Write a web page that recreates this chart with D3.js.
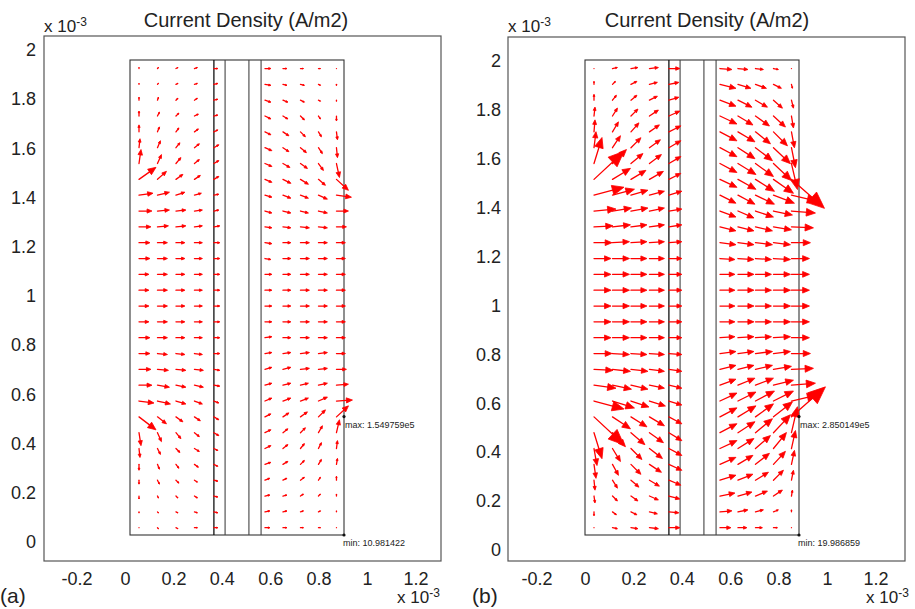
<!DOCTYPE html>
<html>
<head>
<meta charset="utf-8">
<script src="https://cdn.jsdelivr.net/npm/d3@7"></script>
<style>
body { margin: 0; background: #fff; }
text { font-family: "Liberation Sans", Arial, sans-serif; fill: #222; }
</style>
</head>
<body>
<div id="chart"></div>
<script>
// cell geometry, x 10^-3 m
var cellWidth = 0.88, cellHeight = 1.95;
var dividerX = [0.345, 0.391, 0.489, 0.539];
var colX = [0.037, 0.113, 0.189, 0.265, 0.345, 0.555, 0.629, 0.701, 0.775, 0.849];
var rowY = [1.915, 1.85, 1.785, 1.72, 1.655, 1.59, 1.525, 1.46, 1.395, 1.33, 1.265, 1.2, 1.135, 1.07, 1.005,
            0.94, 0.875, 0.81, 0.745, 0.68, 0.615, 0.55, 0.485, 0.42, 0.355, 0.29, 0.225, 0.16, 0.095, 0.03];
var xTicks = [-0.2, 0, 0.2, 0.4, 0.6, 0.8, 1, 1.2];
var yTicks = [0, 0.2, 0.4, 0.6, 0.8, 1, 1.2, 1.4, 1.6, 1.8, 2];
var maxPoint = [0.88, 0.486], minPoint = [0.88, 0];

// arrow components (relative units), rows top to bottom, y up
var jxA = [
  [0,1,2,3,4, 6,4,3,2,0],[0,1,2,3,4, 6,4,4,2,0],[0,1,2,3,4, 6,5,4,2,0],[0,2,3,4,4, 6,5,4,2,0],
  [0,2,3,4,4, 6,6,5,3,1],[1,3,4,5,5, 7,6,6,4,1],[2,4,5,5,5, 7,7,7,5,3],[17,9,7,6,5, 7,8,8,7,12],
  [14,12,9,7,5, 7,8,8,9,15],[13,12,10,8,5, 7,8,8,9,12],[12,11,10,8,6, 7,8,9,9,10],[11,10,9,8,6, 7,8,9,9,9],
  [11,10,9,8,6, 6,8,9,9,9],[10,10,9,8,6, 7,8,9,9,9],[10,10,9,8,6, 7,8,9,9,9],[10,10,9,8,6, 7,8,9,9,9],
  [10,10,9,8,6, 7,8,9,9,9],[11,10,9,8,6, 7,8,9,9,9],[11,10,9,8,6, 7,8,9,9,9],[12,11,10,9,6, 7,8,9,9,10],
  [13,12,10,9,6, 7,8,8,9,12],[15,13,10,8,5, 7,8,8,9,16],[17,9,7,6,5, 6,6,7,7,12],[2,4,5,5,5, 6,5,5,4,3],
  [1,3,4,5,4, 6,5,4,3,1],[0,2,3,4,4, 6,5,4,3,1],[0,2,3,3,4, 5,4,4,2,0],[0,1,2,3,4, 5,4,3,2,0],
  [0,1,2,3,4, 5,4,3,2,0],[0,1,2,3,4, 5,4,3,2,0]
];
var jyA = [
  [1,1,1,1,0, 0,0,0,0,0],[1,1,1,1,1, -1,-1,-1,-1,-1],[3,3,2,2,1, -2,-2,-2,-1,-1],[5,4,3,2,1, -3,-3,-4,-3,-5],
  [7,5,4,3,2, -3,-4,-5,-5,-8],[9,7,5,4,3, -3,-4,-5,-6,-10],[14,9,6,4,3, -3,-4,-5,-7,-14],[12,8,5,4,3, -3,-4,-5,-6,-11],
  [2,3,3,2,1, -2,-3,-3,-4,-2],[0,1,1,1,1, -2,-2,-2,-2,0],[0,1,1,1,1, -1,-1,-1,-1,0],[0,0,0,0,0, -1,0,0,0,0],
  [0,0,0,0,0, -1,0,0,0,0],[0,0,0,0,0, 0,0,0,0,0],[0,0,0,0,0, 0,0,0,0,0],[0,0,0,0,0, 0,0,0,0,0],
  [0,0,0,0,0, 0,0,0,0,0],[0,0,0,0,0, 1,0,0,0,0],[0,-1,-1,-1,0, 1,1,1,1,0],[0,-1,-1,-1,-1, 2,2,1,1,0],
  [0,-2,-2,-2,-1, 2,2,2,2,1],[-2,-3,-3,-3,-2, 3,3,3,4,1],[-13,-7,-5,-4,-3, 3,4,5,7,11],[-13,-9,-6,-4,-3, 3,4,5,7,13],
  [-9,-6,-4,-3,-2, 3,4,5,6,8],[-6,-5,-4,-3,-2, 2,3,4,5,6],[-4,-4,-3,-2,-1, 2,2,3,3,4],[-3,-2,-2,-2,-1, 1,1,2,2,2],
  [-1,-1,-1,-1,-1, 1,1,1,1,1],[0,-1,-1,0,0, 0,0,0,0,0]
];
var jxB = [
  [0,5,7,9,11, 12,10,8,5,0],[0,3,6,8,10, 16,13,11,8,1],[0,4,6,8,10, 16,14,12,9,2],[1,5,7,9,11, 17,15,14,12,2],
  [1,6,8,10,12, 17,17,15,14,3],[2,8,10,11,12, 17,17,17,17,4],[8,14,12,12,12, 17,18,18,18,6],[30,18,15,14,12, 17,18,19,20,33],
  [30,22,17,15,13, 16,17,19,21,26],[22,19,17,15,13, 16,16,18,19,24],[19,18,16,15,13, 16,16,17,18,22],[18,17,16,15,13, 16,16,17,17,19],
  [17,17,16,15,13, 15,16,16,17,18],[17,17,16,15,13, 15,16,16,17,18],[17,17,16,15,13, 15,16,16,17,18],[17,17,16,15,13, 15,16,16,17,18],
  [17,17,16,15,13, 15,16,16,17,18],[17,17,16,15,13, 15,16,16,17,18],[18,17,16,15,13, 16,16,17,17,19],[19,18,17,15,13, 16,16,17,18,22],
  [22,19,17,15,13, 16,17,18,20,24],[30,22,18,16,13, 17,18,19,20,26],[30,18,16,15,13, 17,18,18,19,34],[8,13,14,14,13, 17,17,17,17,6],
  [3,8,11,13,13, 17,16,15,13,4],[2,6,10,12,13, 16,15,14,12,3],[1,5,8,10,12, 16,15,13,10,2],[1,5,7,9,11, 15,14,12,9,1],
  [0,4,6,8,10, 12,10,8,5,0],[0,5,7,9,11, 11,9,7,4,0]
];
var jyB = [
  [0,1,1,1,0, -1,-1,-1,-1,0],[3,3,3,2,2, -4,-4,-4,-4,-4],[6,5,5,4,3, -6,-7,-7,-8,-8],[9,8,7,6,5, -8,-9,-10,-11,-12],
  [12,10,9,7,6, -9,-10,-12,-14,-16],[16,12,10,8,7, -9,-11,-13,-16,-20],[26,14,10,9,7, -9,-11,-13,-17,-26],[28,11,9,8,6, -8,-10,-12,-14,-29],
  [8,6,5,4,4, -8,-9,-9,-8,-6],[2,3,3,3,2, -6,-7,-6,-4,-2],[1,2,2,2,2, -4,-4,-4,-3,-1],[0,1,1,1,1, -2,-2,-2,-2,0],
  [0,0,0,0,0, -1,-1,-1,-1,0],[0,0,0,0,0, 0,0,0,0,0],[0,0,0,0,0, 0,0,0,0,0],[0,0,0,0,0, 0,0,0,0,0],
  [0,0,0,0,0, 0,0,0,0,0],[0,0,0,0,0, 1,1,1,1,0],[0,-1,-1,-1,-1, 2,2,2,2,0],[-1,-2,-2,-2,-2, 4,4,4,3,1],
  [-3,-4,-4,-3,-3, 6,7,7,5,2],[-8,-7,-6,-5,-4, 8,9,10,10,6],[-28,-12,-10,-9,-7, 9,11,13,15,30],[-26,-14,-12,-10,-8, 9,11,14,18,26],
  [-17,-13,-11,-10,-7, 8,10,13,16,18],[-14,-11,-10,-8,-6, 7,9,11,13,14],[-10,-8,-7,-6,-5, 5,6,8,10,10],[-7,-5,-5,-4,-3, 3,4,5,6,6],
  [-4,-3,-3,-2,-1, 1,2,2,2,2],[0,-1,-1,-1,0, 0,0,0,0,0]
];

var panels = [
  {tag: "(a)", jx: jxA, jy: jyA, maxText: "max: 1.549759e5", minText: "min: 10.981422",
   frame: [44, 441, 36, 561], cellLeft: 130, xTickPx: [125, 367], yTickPx: [542, 50], yLabelRight: 36,
   titleX: 246, tagX: 0, unitX: 397},
  {tag: "(b)", jx: jxB, jy: jyB, maxText: "max: 2.850149e5", minText: "min: 19.986859",
   frame: [508, 905, 37, 561], cellLeft: 585, xTickPx: [585, 827], yTickPx: [550, 61], yLabelRight: 501,
   titleX: 707, tagX: 472, unitX: 866}
];

var W = 915, H = 609;
var svg = d3.select("#chart").append("svg").attr("width", W).attr("height", H);
var arrowLen = d3.scaleLinear().domain([0, 1]).range([0, 1]);
var red = "#ff0000";

function arrowPath(x0, y0, dx, dy) {
  var L = Math.sqrt(dx * dx + dy * dy);
  if (L < 0.01) return {line: "M" + x0 + "," + y0 + "L" + x0 + "," + y0, head: null};
  var ux = dx / L, uy = dy / L, nx = -uy, ny = ux;
  var tx = x0 + dx, ty = y0 + dy;
  var h = 0.38 * L, w = 0.16 * L;
  var bx = tx - h * ux, by = ty - h * uy;
  var line = "M" + x0 + "," + y0 + "L" + (tx - 0.5 * h * ux) + "," + (ty - 0.5 * h * uy);
  var head = "M" + tx + "," + ty + "L" + (bx + w * nx) + "," + (by + w * ny) + "L" + (bx - w * nx) + "," + (by - w * ny) + "Z";
  return {line: line, head: head};
}

function unitLabel(g, x, y) {
  var t = g.append("text").attr("x", x).attr("y", y).style("font-size", "17px");
  t.append("tspan").text("x 10");
  t.append("tspan").attr("dy", -6).style("font-size", "12px").text("-3");
}

panels.forEach(function(p) {
  var g = svg.append("g");
  var x = d3.scaleLinear().domain([0, cellWidth]).range([p.cellLeft, p.cellLeft + 214]);
  var y = d3.scaleLinear().domain([0, cellHeight]).range([535, 60]);
  var xt = d3.scaleLinear().domain([0, 1]).range(p.xTickPx);
  var yt = d3.scaleLinear().domain([0, 2]).range(p.yTickPx);

  // frame
  g.append("rect").attr("x", p.frame[0]).attr("y", p.frame[2])
    .attr("width", p.frame[1] - p.frame[0]).attr("height", p.frame[3] - p.frame[2])
    .attr("fill", "none").attr("stroke", "#555").attr("stroke-width", 1.2);

  // axes
  var ax = g.append("g").attr("transform", "translate(0," + p.frame[3] + ")")
    .call(d3.axisBottom(xt).tickValues(xTicks).tickSize(0).tickPadding(11).tickFormat(function(d) { return String(d); }));
  var ay = g.append("g").attr("transform", "translate(" + p.yLabelRight + ",0)")
    .call(d3.axisLeft(yt).tickValues(yTicks).tickSize(0).tickPadding(0).tickFormat(function(d) { return String(d); }));
  [ax, ay].forEach(function(a) {
    a.select(".domain").remove();
    a.attr("font-family", null).attr("font-size", null);
    a.selectAll("text").style("font-size", "18px").attr("fill", "#222");
  });

  // cell geometry
  g.append("rect").attr("x", x(0)).attr("y", y(cellHeight))
    .attr("width", x(cellWidth) - x(0)).attr("height", y(0) - y(cellHeight))
    .attr("fill", "none").attr("stroke", "#333").attr("stroke-width", 1.1);
  g.selectAll(".divider").data(dividerX).enter().append("line")
    .attr("x1", function(d) { return x(d); }).attr("x2", function(d) { return x(d); })
    .attr("y1", y(0)).attr("y2", y(cellHeight))
    .attr("stroke", function(d, i) { return i === 0 ? "#111" : "#444"; })
    .attr("stroke-width", function(d, i) { return i === 0 ? 1.3 : 1.1; });

  // arrows
  var cells = [];
  rowY.forEach(function(ry, r) {
    colX.forEach(function(cx, c) {
      cells.push(arrowPath(x(cx), y(ry), arrowLen(p.jx[r][c]), -arrowLen(p.jy[r][c])));
    });
  });
  var ag = g.append("g");
  ag.selectAll("path.shaft").data(cells).enter().append("path").attr("class", "shaft")
    .attr("d", function(d) { return d.line; })
    .attr("stroke", red).attr("stroke-width", 1.3).attr("stroke-linecap", "round").attr("fill", "none");
  ag.selectAll("path.head").data(cells.filter(function(d) { return d.head; })).enter().append("path").attr("class", "head")
    .attr("d", function(d) { return d.head; })
    .attr("fill", red).attr("stroke", red).attr("stroke-width", 0.8).attr("stroke-linejoin", "round");

  // max / min markers
  [[maxPoint, p.maxText, 1, 11], [minPoint, p.minText, -1, 11]].forEach(function(m) {
    g.append("circle").attr("cx", x(m[0][0])).attr("cy", y(m[0][1])).attr("r", 1.6).attr("fill", "#111");
    g.append("text").attr("x", x(m[0][0]) + m[2]).attr("y", y(m[0][1]) + m[3])
      .style("font-size", "9px").text(m[1]);
  });

  // labels
  g.append("text").attr("x", p.titleX).attr("y", 27).attr("text-anchor", "middle")
    .style("font-size", "20px").text("Current Density (A/m2)");
  unitLabel(g, p.frame[0], 32);
  unitLabel(g, p.unitX, 603);
  g.append("text").attr("x", p.tagX).attr("y", 603).style("font-size", "21px").text(p.tag);
});
</script>
</body>
</html>
